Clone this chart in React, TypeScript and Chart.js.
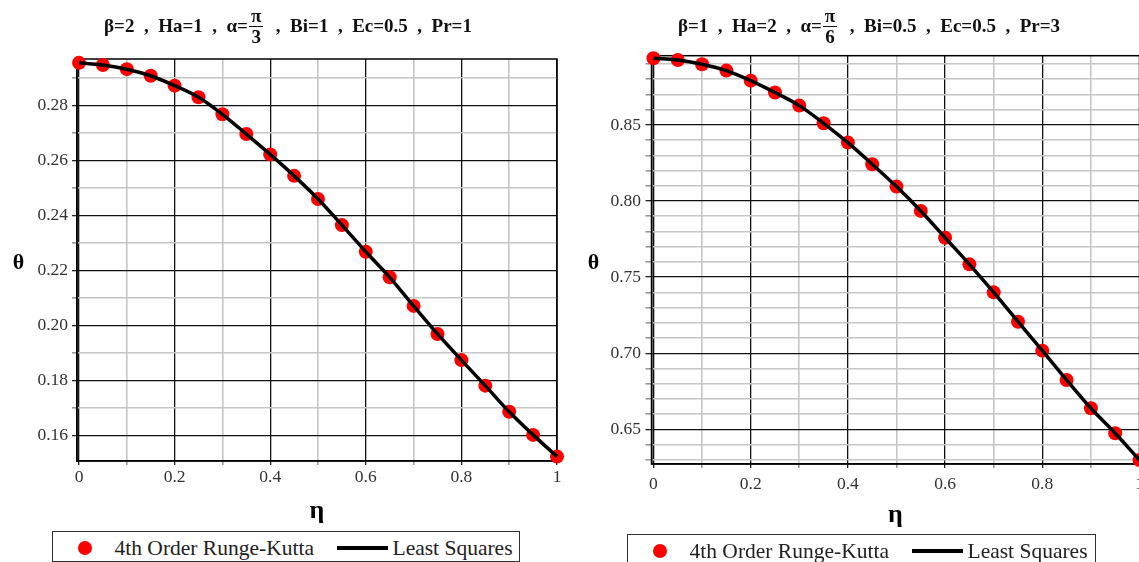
import React, { useEffect, useRef } from "react";
import { Chart, registerables } from "chart.js";

Chart.register(...registerables);

// Dimensionless coordinate across the channel
const eta = [0, 0.05, 0.1, 0.15, 0.2, 0.25, 0.3, 0.35, 0.4, 0.45, 0.5, 0.55, 0.6, 0.65, 0.7, 0.75, 0.8, 0.85, 0.9, 0.95, 1];

// Case A: β=2, Ha=1, α=π/3, Bi=1, Ec=0.5, Pr=1
const thetaRK_A = [0.2956, 0.2948, 0.2933, 0.2909, 0.2873, 0.2831, 0.2769, 0.2697, 0.2623, 0.2545, 0.2461, 0.2366, 0.2269, 0.2176, 0.2072, 0.197, 0.1875, 0.1782, 0.1687, 0.1603, 0.1524];
const thetaLS_A = [0.2956, 0.2948, 0.2933, 0.2909, 0.2873, 0.2831, 0.2769, 0.2697, 0.2623, 0.2545, 0.2461, 0.2366, 0.2269, 0.2176, 0.2072, 0.197, 0.1875, 0.1782, 0.1687, 0.1603, 0.1524];

// Case B: β=1, Ha=2, α=π/6, Bi=0.5, Ec=0.5, Pr=3
const thetaRK_B = [0.8938, 0.8927, 0.8899, 0.8857, 0.8791, 0.8713, 0.8627, 0.8511, 0.8384, 0.8242, 0.8095, 0.7935, 0.7759, 0.7584, 0.74, 0.7207, 0.7017, 0.6824, 0.6638, 0.6474, 0.6298];
const thetaLS_B = [0.8938, 0.8927, 0.8899, 0.8857, 0.8791, 0.8713, 0.8627, 0.8511, 0.8384, 0.8242, 0.8095, 0.7935, 0.7759, 0.7584, 0.74, 0.7207, 0.7017, 0.6824, 0.6638, 0.6474, 0.6298];

const seriesNames = ["4th Order Runge-Kutta", "Least Squares"];

const SERIF = '"Liberation Serif", "Times New Roman", serif';

type Panel = {
  rk: number[];
  ls: number[];
  yMin: number;
  yMax: number;
  yLabelEvery: number; // in hundredths
  xMin: number;
  canvasLeft: number;
  canvasWidth: number;
  padTop: number;
  padRight: number;
  padBottom: number;
  yAxisW: number;
  xAxisH: number;
  yTickLen: number;
  yTickPad: number;
  xTickPad: number;
};

const panelA: Panel = {
  rk: thetaRK_A,
  ls: thetaLS_A,
  yMin: 0.1508,
  yMax: 0.297,
  yLabelEvery: 2,
  xMin: -0.0042,
  canvasLeft: 0,
  canvasWidth: 576,
  padTop: 59,
  padRight: 19,
  padBottom: 34.7,
  yAxisW: 77,
  xAxisH: 66.3,
  yTickLen: 5,
  yTickPad: 4,
  xTickPad: 2,
};

const panelB: Panel = {
  rk: thetaRK_B,
  ls: thetaLS_B,
  yMin: 0.6272,
  yMax: 0.8955,
  yLabelEvery: 5,
  xMin: -0.0041,
  canvasLeft: 576,
  canvasWidth: 600,
  padTop: 55.7,
  padRight: 36.5,
  padBottom: 31.4,
  yAxisW: 75.5,
  xAxisH: 66.6,
  yTickLen: 6,
  yTickPad: 4.5,
  xTickPad: 6,
};

const MAJOR = "#111";
const MINOR = "#c6c6c6";

// Closed frame around the plotting area
const framePlugin = {
  id: "frame",
  beforeDatasetsDraw(chart: any) {
    const { ctx, chartArea } = chart;
    ctx.save();
    ctx.strokeStyle = "#000";
    ctx.lineWidth = 1.5;
    ctx.strokeRect(chartArea.left, chartArea.top, chartArea.right - chartArea.left, chartArea.bottom - chartArea.top);
    ctx.restore();
  },
};

function buildChart(canvas: HTMLCanvasElement, p: Panel) {
  const isMajorX = (v: number) => Math.round(v * 10) % 2 === 0;
  const isMajorY = (v: number) => Math.round(v * 100) % p.yLabelEvery === 0;
  const tickFont = { family: SERIF, size: 17.5 };

  return new Chart(canvas, {
    type: "line",
    data: {
      datasets: [
        {
          label: seriesNames[1],
          data: eta.map((x, i) => ({ x, y: p.ls[i] })),
          borderColor: "#000",
          borderWidth: 3.5,
          pointRadius: 0,
          cubicInterpolationMode: "monotone",
          fill: false,
          order: 0,
          clip: false,
        },
        {
          label: seriesNames[0],
          data: eta.map((x, i) => ({ x, y: p.rk[i] })),
          showLine: false,
          pointRadius: 7,
          pointBackgroundColor: "#ff0000",
          pointBorderWidth: 0,
          borderColor: "#ff0000",
          order: 1,
          clip: false,
        },
      ],
    },
    options: {
      responsive: false,
      animation: false,
      events: [],
      layout: { padding: { top: p.padTop, right: p.padRight, bottom: p.padBottom, left: 0 } },
      plugins: {
        legend: { display: false },
        tooltip: { enabled: false },
        title: { display: false },
      },
      scales: {
        x: {
          type: "linear",
          min: p.xMin,
          max: 1,
          afterFit: (s: any) => {
            s.height = p.xAxisH;
          },
          ticks: {
            stepSize: 0.1,
            includeBounds: false,
            autoSkip: false,
            maxRotation: 0,
            padding: p.xTickPad,
            color: "#333",
            font: tickFont,
            callback: (v: any) => {
              const n = Number(v);
              if (!isMajorX(n)) return "";
              if (Math.abs(n) < 1e-9) return "0";
              if (Math.abs(n - 1) < 1e-9) return "1";
              return n.toFixed(1);
            },
          },
          grid: {
            color: (c: any) => (c.tick && isMajorX(c.tick.value) ? MAJOR : MINOR),
            lineWidth: (c: any) => (c.tick && isMajorX(c.tick.value) ? 1.3 : 1.6),
            tickColor: (c: any) => (c.tick && isMajorX(c.tick.value) ? "#222" : "#999"),
            tickLength: 4,
          },
          border: { color: "#000", width: 1.5 },
          title: {
            display: true,
            text: "η",
            color: "#000",
            font: { family: SERIF, size: 26, weight: "bold" },
            padding: 0,
          },
        },
        y: {
          type: "linear",
          min: p.yMin,
          max: p.yMax,
          afterFit: (s: any) => {
            s.width = p.yAxisW;
          },
          ticks: {
            stepSize: 0.01,
            includeBounds: false,
            autoSkip: false,
            padding: p.yTickPad,
            color: "#333",
            font: tickFont,
            callback: (v: any) => {
              const n = Number(v);
              return isMajorY(n) ? n.toFixed(2) : "";
            },
          },
          grid: {
            color: (c: any) => (c.tick && isMajorY(c.tick.value) ? MAJOR : MINOR),
            lineWidth: (c: any) => (c.tick && isMajorY(c.tick.value) ? 1.3 : 1.6),
            tickColor: (c: any) => (c.tick && isMajorY(c.tick.value) ? "#222" : "#999"),
            tickLength: p.yTickLen,
          },
          border: { color: "#000", width: 1.5 },
          title: { display: false },
        },
      },
    } as any,
    plugins: [framePlugin],
  });
}

function PlotCanvas({ panel }: { panel: Panel }) {
  const ref = useRef<HTMLCanvasElement | null>(null);
  useEffect(() => {
    if (!ref.current) return;
    const chart = buildChart(ref.current, panel);
    return () => chart.destroy();
  }, [panel]);
  return (
    <canvas
      ref={ref}
      width={panel.canvasWidth}
      height={562}
      style={{ position: "absolute", left: panel.canvasLeft, top: 0, width: panel.canvasWidth, height: 562, display: "block" }}
    />
  );
}

function Title({ cx, before, num, den, after }: { cx: number; before: string; num: string; den: string; after: string }) {
  return (
    <div
      style={{
        position: "absolute",
        left: cx - 300,
        width: 600,
        top: 1,
        height: 50,
        display: "flex",
        justifyContent: "center",
        alignItems: "center",
        fontFamily: SERIF,
        fontWeight: "bold",
        fontSize: 19,
        color: "#111",
        whiteSpace: "pre",
      }}
    >
      <span>{before}</span>
      <span style={{ display: "inline-flex", flexDirection: "column", alignItems: "center", margin: "0 3px 0 1px" }}>
        <span style={{ lineHeight: "20px", borderBottom: "1.5px solid #111", padding: "0 2px" }}>{num}</span>
        <span style={{ lineHeight: "20px" }}>{den}</span>
      </span>
      <span>{after}</span>
    </div>
  );
}

function ThetaLabel({ cx, cy }: { cx: number; cy: number }) {
  return (
    <div
      style={{
        position: "absolute",
        left: cx - 20,
        width: 40,
        top: cy - 15,
        height: 30,
        lineHeight: "30px",
        textAlign: "center",
        fontFamily: SERIF,
        fontWeight: "bold",
        fontSize: 22,
        color: "#000",
      }}
    >
      θ
    </div>
  );
}

function Legend({ left, top, width, height }: { left: number; top: number; width: number; height: number }) {
  const textMid = 16;
  const textStyle: React.CSSProperties = {
    position: "absolute",
    top: textMid - 13,
    height: 26,
    lineHeight: "26px",
    fontFamily: SERIF,
    fontSize: 21.5,
    color: "#222",
    whiteSpace: "nowrap",
  };
  return (
    <div
      style={{
        position: "absolute",
        left,
        top,
        width,
        height,
        border: "1.5px solid #333",
        boxSizing: "border-box",
        background: "#fff",
      }}
    >
      <div
        style={{
          position: "absolute",
          left: 31.5 - 7,
          top: textMid - 7,
          width: 14,
          height: 14,
          borderRadius: "50%",
          background: "#ff0000",
        }}
      />
      <span style={{ ...textStyle, left: 61.5 }}>{seriesNames[0]}</span>
      <div style={{ position: "absolute", left: 284, top: textMid - 2, width: 51, height: 4, background: "#000" }} />
      <span style={{ ...textStyle, left: 339.5 }}>{seriesNames[1]}</span>
    </div>
  );
}

export default function App() {
  return (
    <div
      style={{
        position: "fixed",
        left: 0,
        top: 0,
        width: 1139,
        height: 562,
        overflow: "hidden",
        background: "#fff",
      }}
    >
      <PlotCanvas panel={panelA} />
      <PlotCanvas panel={panelB} />
      <Title cx={288} before={"β=2  ,  Ha=1  ,  α="} num="π" den="3" after={"  ,  Bi=1  ,  Ec=0.5  ,  Pr=1"} />
      <Title cx={869} before={"β=1  ,  Ha=2  ,  α="} num="π" den="6" after={"  ,  Bi=0.5  ,  Ec=0.5  ,  Pr=3"} />
      <ThetaLabel cx={18.5} cy={262} />
      <ThetaLabel cx={593.5} cy={261.7} />
      <Legend left={52} top={531} width={468} height={31} />
      <Legend left={627} top={534} width={469} height={35} />
    </div>
  );
}
